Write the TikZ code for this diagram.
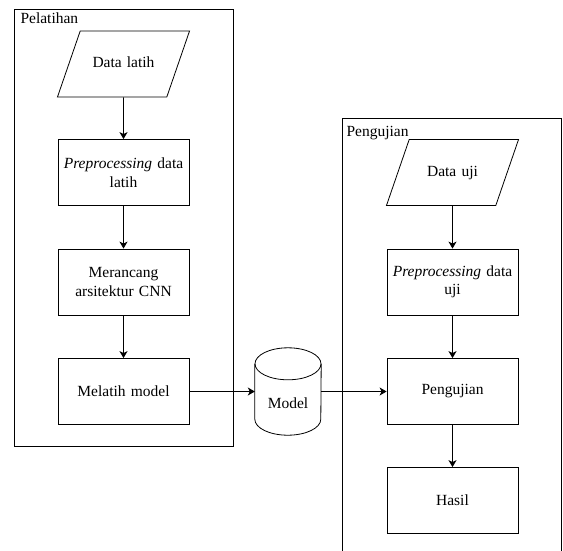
\documentclass[tikz,border=0pt]{standalone}
\usepackage{fontspec}
\setmainfont{Liberation Serif}
\usetikzlibrary{shapes.geometric,arrows.meta}

\begin{document}
\begin{tikzpicture}[x=1pt, y=-1pt,
  font=\fontsize{15.5}{18.5}\selectfont,
  group/.style={draw, rectangle, line width=0.8pt, inner sep=0pt, anchor=north west},
  proc/.style={draw, rectangle, line width=0.8pt, minimum width=131pt, minimum height=66pt,
    text width=127pt, align=center, inner sep=0pt},
  io/.style={draw, trapezium, line width=0.8pt, trapezium left angle=71, trapezium right angle=109,
    text width=86.6pt, align=center, inner xsep=0pt, inner ysep=25.5pt,
    text height=11pt, text depth=4pt},
  db/.style={rectangle, minimum width=66pt, minimum height=87pt, inner sep=0pt,
    text height=38pt, text depth=4pt},
  flow/.style={-{Stealth[length=7pt, width=8pt, inset=2pt]}, line width=0.8pt}
]

  % --- Page frame ---
  \useasboundingbox (0,0) rectangle (563,550);
  \clip (0,0) rectangle (563,550);

  % --- Containers ---
  \node[group, minimum width=219pt, minimum height=437pt] (latih) at (14,9) {};
  \node[anchor=base west] (tlatih) at ([xshift=3pt, yshift=-14pt]latih.north west) {Pelatihan};

  \node[group, minimum width=219pt, minimum height=500pt] (uji) at (342,118) {};
  \node[anchor=base west] (tuji) at ([xshift=1pt, yshift=-18pt]uji.north west) {Pengujian};

  % --- Training steps ---
  \node[io]   (dlatih)  at (123.5,64)    {Data latih};
  \node[proc] (platih)  at (123.5,172.5) {\textit{Preprocessing} data\\latih};
  \node[proc] (rancang) at (123.5,282)   {Merancang\\arsitektur CNN};
  \node[proc] (melatih) at (123.5,391.5) {Melatih model};

  % --- Stored model (cylinder) ---
  \node[db] (model) at (288,391.5) {Model};
  \draw[line width=0.8pt] ([yshift=-16pt]model.north west) -- ([yshift=16pt]model.south west)
    arc[start angle=180, end angle=360, x radius=33pt, y radius=16pt]
    -- ([yshift=-16pt]model.north east);
  \draw[line width=0.8pt] ([yshift=-16pt]model.north) ellipse[x radius=33pt, y radius=16pt];

  % --- Testing steps ---
  \node[io]   (duji)      at (452.5,172.5) {Data uji};
  \node[proc] (puji)      at (452.5,282)   {\textit{Preprocessing} data\\uji};
  \node[proc] (pengujian) at (452.5,391.5) {Pengujian};
  \node[proc] (hasil)     at (452.5,500.5) {Hasil};

  % --- Flow ---
  \draw[flow] (dlatih) -- (platih);
  \draw[flow] (platih) -- (rancang);
  \draw[flow] (rancang) -- (melatih);
  \draw[flow] (melatih) -- (model);
  \draw[flow] (model) -- (pengujian);
  \draw[flow] (duji) -- (puji);
  \draw[flow] (puji) -- (pengujian);
  \draw[flow] (pengujian) -- (hasil);

\end{tikzpicture}
\end{document}
